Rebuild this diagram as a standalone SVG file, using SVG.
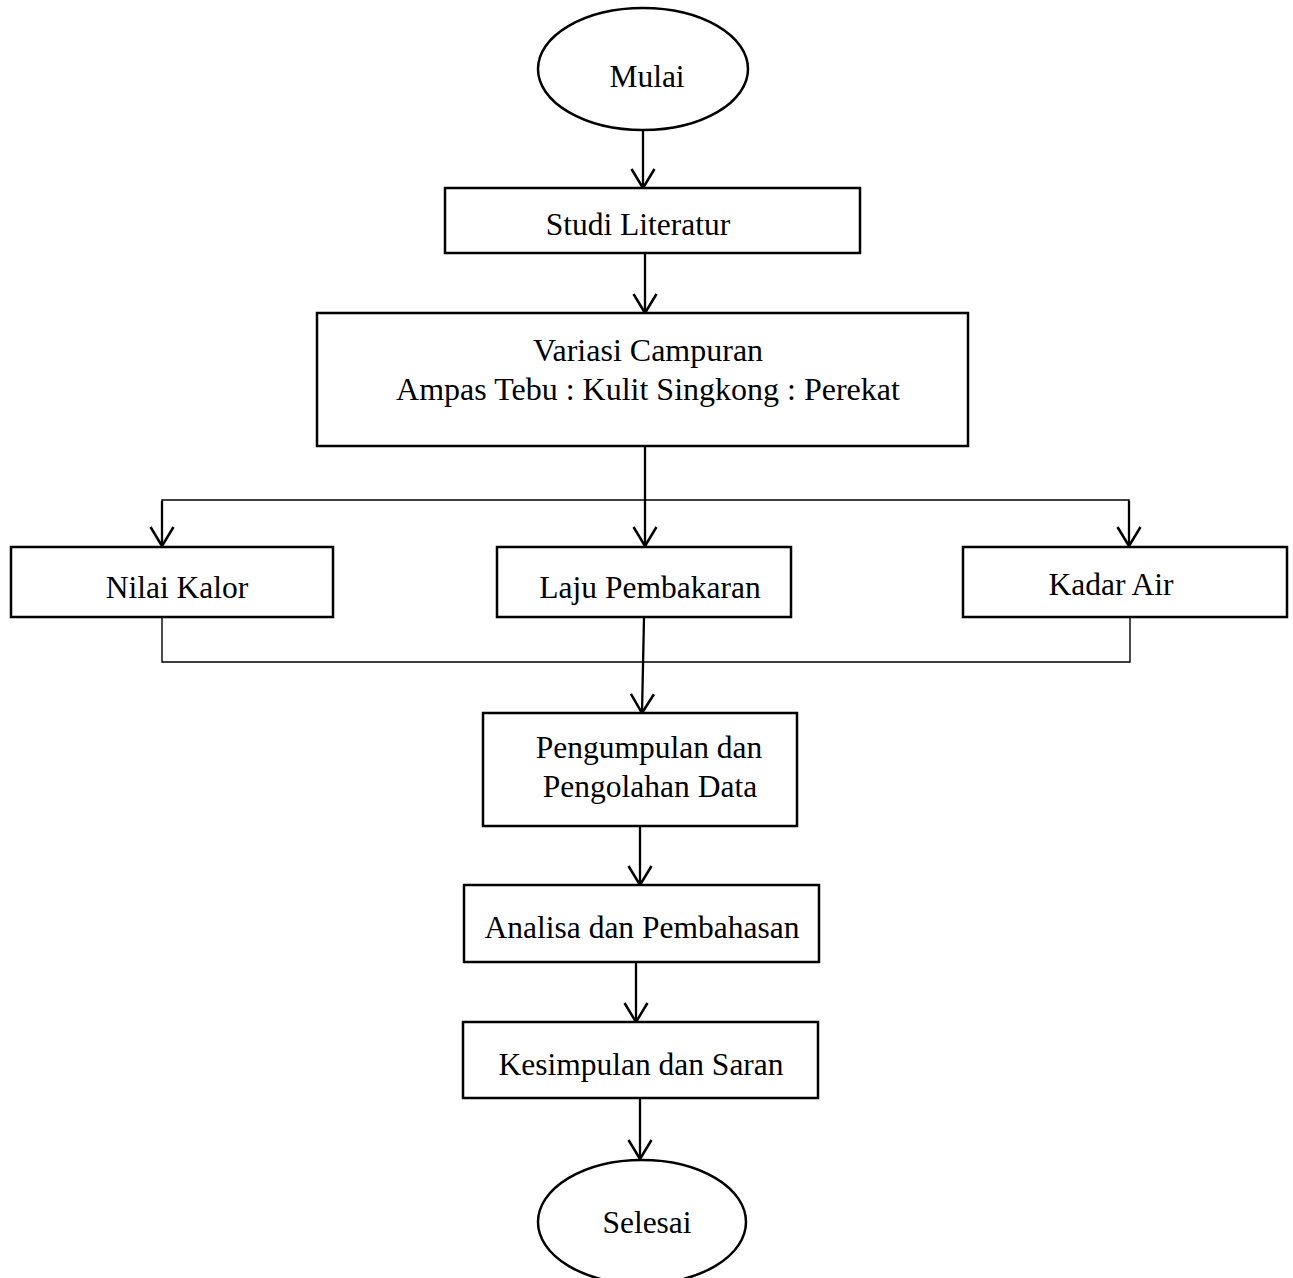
<svg xmlns="http://www.w3.org/2000/svg" width="1293" height="1278" viewBox="0 0 1293 1278">
  <style>
    .box { fill: #ffffff; stroke: #000000; stroke-width: 2.5; }
    .t { font-family: "Liberation Serif", "Times New Roman", serif; font-size: 31.5px; fill: #000000; text-anchor: middle; }
    .t2 { font-family: "Liberation Serif", "Times New Roman", serif; font-size: 32px; fill: #000000; text-anchor: middle; }
    .conn { fill: none; stroke: #000000; stroke-width: 2.3; }
    .thin { fill: none; stroke: #000000; stroke-width: 1.4; }
  </style>
  <defs>
    <marker id="arrow" markerUnits="userSpaceOnUse" markerWidth="28" markerHeight="30" viewBox="-24 -15 28 30" refX="0" refY="0" orient="auto" overflow="visible">
      <path d="M -19 -11.5 L 0 0 L -19 11.5" fill="none" stroke="#000000" stroke-width="2.5"/>
    </marker>
  </defs>
  <rect width="1293" height="1278" fill="#ffffff"/>

  <g id="connectors">
    <line class="conn" x1="643" y1="130" x2="643" y2="188" marker-end="url(#arrow)"/>
    <line class="conn" x1="645" y1="253" x2="645" y2="313" marker-end="url(#arrow)"/>
    <line class="conn" x1="645" y1="446" x2="645" y2="546" marker-end="url(#arrow)"/>
    <polyline class="thin" points="162,546 162,500 1129,500 1129,546"/>
    <line class="conn" x1="162" y1="501" x2="162" y2="546" marker-end="url(#arrow)"/>
    <line class="conn" x1="1129" y1="501" x2="1129" y2="546" marker-end="url(#arrow)"/>
    <polyline class="thin" points="162,618 162,662 1130,662 1130,618"/>
    <line class="conn" x1="644" y1="618" x2="642" y2="713" marker-end="url(#arrow)"/>
    <line class="conn" x1="640" y1="826" x2="640" y2="885" marker-end="url(#arrow)"/>
    <line class="conn" x1="636" y1="962" x2="636" y2="1022" marker-end="url(#arrow)"/>
    <line class="conn" x1="640" y1="1098" x2="640" y2="1159" marker-end="url(#arrow)"/>
  </g>

  <g id="mulai">
    <ellipse class="box" cx="643" cy="69" rx="105" ry="61"/>
    <text class="t" x="647" y="87">Mulai</text>
  </g>
  <g id="studi-literatur">
    <rect class="box" x="445" y="188" width="415" height="65"/>
    <text class="t" x="638" y="235">Studi Literatur</text>
  </g>
  <g id="variasi-campuran">
    <rect class="box" x="317" y="313" width="651" height="133"/>
    <text class="t2" x="648" y="361">Variasi Campuran</text>
    <text class="t2" x="648" y="400">Ampas Tebu : Kulit Singkong : Perekat</text>
  </g>
  <g id="nilai-kalor">
    <rect class="box" x="11" y="547" width="322" height="70"/>
    <text class="t" x="177" y="598">Nilai Kalor</text>
  </g>
  <g id="laju-pembakaran">
    <rect class="box" x="497" y="547" width="294" height="70"/>
    <text class="t" x="650" y="598">Laju Pembakaran</text>
  </g>
  <g id="kadar-air">
    <rect class="box" x="963" y="547" width="324" height="70"/>
    <text class="t" x="1111" y="595">Kadar Air</text>
  </g>
  <g id="pengumpulan-data">
    <rect class="box" x="483" y="713" width="314" height="113"/>
    <text class="t" x="649" y="758">Pengumpulan dan</text>
    <text class="t" x="650" y="797">Pengolahan Data</text>
  </g>
  <g id="analisa-pembahasan">
    <rect class="box" x="464" y="885" width="355" height="77"/>
    <text class="t" x="642" y="938">Analisa dan Pembahasan</text>
  </g>
  <g id="kesimpulan-saran">
    <rect class="box" x="463" y="1022" width="355" height="76"/>
    <text class="t" x="641" y="1075">Kesimpulan dan Saran</text>
  </g>
  <g id="selesai">
    <ellipse class="box" cx="642" cy="1222" rx="104" ry="62"/>
    <text class="t" x="647" y="1233">Selesai</text>
  </g>
</svg>
